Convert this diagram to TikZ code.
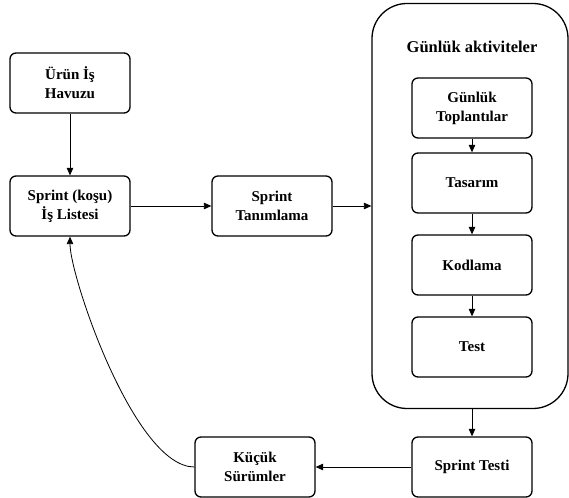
\documentclass[tikz,border=0pt]{standalone}
\usepackage{fontspec}
\setmainfont{Liberation Serif}[BoldFont={Liberation Serif Bold}]
\usetikzlibrary{arrows.meta, positioning}

\begin{document}
\begin{tikzpicture}[
    x=1pt, y=1pt,
    >={Triangle[length=7.5pt, width=6.5pt]},
    box/.style={draw, rounded corners=6pt, minimum width=120pt, minimum height=60pt, align=center, line width=1.3pt, font=\fontsize{15}{19}\selectfont\bfseries},
    title/.style={font=\fontsize{16.5}{19}\selectfont\bfseries},
    link/.style={->, line width=0.8pt},
]
    \useasboundingbox (0,0) rectangle (569,497);

    % daily activities frame
    \node[draw, line width=1.3pt, rounded corners=35pt, minimum width=196pt, minimum height=405pt] (akt) at (470,291) {};
    \node[title] (aktt) at (472,450) {Günlük aktiviteler};

    \node[box] (toplanti) at (472,389) {Günlük\\Toplantılar};
    \node[box] (tasarim) at (472,314) {Tasarım};
    \node[box] (kodlama) at (472,232) {Kodlama};
    \node[box] (test) at (472,150) {Test};

    % left side
    \node[box] (urun) at (70,414) {Ürün İş\\Havuzu};
    \node[box] (liste) at (70,291) {Sprint (koşu)\\İş Listesi};
    \node[box] (tanim) at (272,291) {Sprint\\Tanımlama};

    % bottom row
    \node[box] (stesti) at (472,30) {Sprint Testi};
    \node[box] (kucuk) at (255,30) {Küçük\\Sürümler};

    \draw[link] (urun) -- (liste);
    \draw[link] (liste) -- (tanim);
    \draw[link] (tanim) -- (akt.west);
    \draw[link] (toplanti) -- (tasarim);
    \draw[link] (tasarim) -- (kodlama);
    \draw[link] (kodlama) -- (test);
    \draw[link] (akt.south -| stesti.north) -- (stesti.north);
    \draw[link] (stesti) -- (kucuk);
    \draw[link] (kucuk.west) .. controls +(-60,0) and +(0,-40) .. (liste.south);
\end{tikzpicture}
\end{document}
